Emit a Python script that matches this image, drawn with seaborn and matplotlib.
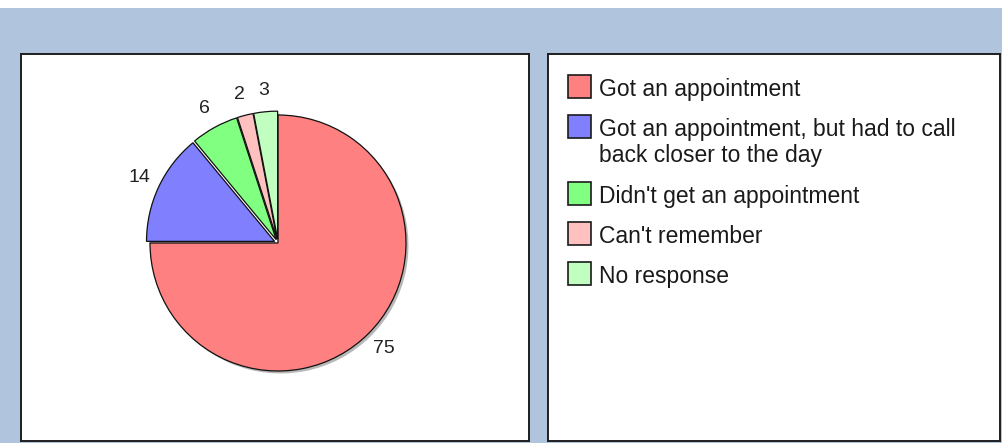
import numpy as np
import matplotlib
matplotlib.use("Agg")
import matplotlib.pyplot as plt
from matplotlib.patches import Rectangle
import seaborn as sns

# Survey responses (counts, sum to 100)
categories = [
    "Got an appointment",
    "Got an appointment, but had to call\nback closer to the day",
    "Didn't get an appointment",
    "Can't remember",
    "No response",
]
values = [75, 14, 6, 2, 3]
slice_colors = ["#FF8080", "#8080FF", "#80FF80", "#FFC0C0", "#C0FFC0"]
explode = [0.0, 0.03, 0.03, 0.03, 0.03]

sns.set_theme(style="white")
plt.rcParams["font.family"] = ["Liberation Sans", "DejaVu Sans"]

W, H = 1002, 443
fig = plt.figure(figsize=(W / 100, H / 100), dpi=100, facecolor="white")


def px_axes(x0, y0, x1, y1):
    """Axes placed by pixel box (origin top-left)."""
    return fig.add_axes([x0 / W, (H - y1) / H, (x1 - x0) / W, (y1 - y0) / H])


# steel-blue backdrop below a thin white strip
fig.add_artist(Rectangle((0, 0), 1, (H - 8) / H, transform=fig.transFigure,
                         facecolor="#B0C4DE", edgecolor="none", zorder=0))


def panel(x0, y0, x1, y1):
    ax = px_axes(x0, y0, x1, y1)
    ax.set_facecolor("white")
    ax.set_xticks([])
    ax.set_yticks([])
    for s in ax.spines.values():
        s.set_visible(True)
        s.set_color("#1e1e1e")
        s.set_linewidth(1.4)
    return ax


ax_left = panel(21, 54, 529, 441)
ax_right = panel(548, 54, 1000, 441)

# Pie chart
R_PX = 128
CX, CY = 278, 243
L = 1.4
half = L * R_PX
ax_pie = px_axes(CX - half, CY - half, CX + half, CY + half)
ax_pie.set_facecolor("none")
wedges, _ = ax_pie.pie(
    values,
    colors=slice_colors,
    startangle=90,
    counterclock=False,
    explode=explode,
    wedgeprops=dict(edgecolor="#111111", linewidth=0.9),
    shadow=dict(ox=0.014, oy=-0.014, facecolor="#8a8a8a", edgecolor="none", alpha=0.6),
)
ax_pie.set_xlim(-L, L)
ax_pie.set_ylim(-L, L)
ax_pie.axis("off")

for w, v in zip(wedges, values):
    ang = np.deg2rad((w.theta1 + w.theta2) / 2)
    cx, cy = w.center
    ax_pie.text(cx + 1.17 * w.r * np.cos(ang), cy + 1.17 * w.r * np.sin(ang),
                str(v), ha="center", va="center", fontsize=14, color="#222222")

# Legend drawn in the right panel (pixel units, y downward)
pw, ph = 1000 - 548, 441 - 54
ax_right.set_xlim(0, pw)
ax_right.set_ylim(ph, 0)
top = 21
for label, c in zip(categories, slice_colors):
    ax_right.add_patch(Rectangle((20, top), 23, 23, facecolor=c,
                                 edgecolor="#1a1a1a", linewidth=1.2))
    ax_right.text(51, top + 3, label, ha="left", va="top", fontsize=16.5,
                  color="#1a1a1a", linespacing=1.15)
    nlines = label.count("\n") + 1
    top += 40 + 27 * (nlines - 1)

fig.savefig("out.png", dpi=100, facecolor="white")
